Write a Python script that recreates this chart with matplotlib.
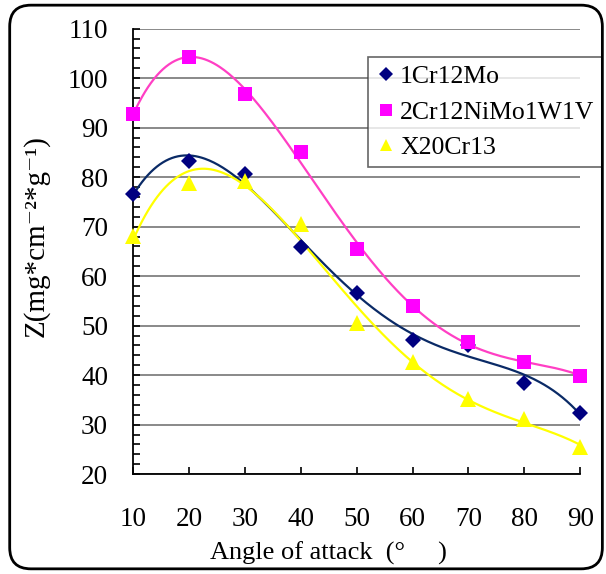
import numpy as np
import matplotlib.pyplot as plt
from matplotlib.patches import FancyBboxPatch
from matplotlib.ticker import MultipleLocator

# Angle of attack and measured Z values for the three steels
angle = [10, 20, 30, 40, 50, 60, 70, 80, 90]
z_1cr12mo = [76.6, 83.2, 80.7, 65.9, 56.6, 47.1, 46.1, 38.5, 32.4]
z_2cr12nimo = [92.7, 104.3, 96.8, 85.0, 65.5, 53.9, 46.6, 42.7, 39.9]
z_x20cr13 = [68.1, 78.8, 79.2, 70.6, 50.6, 42.7, 35.1, 31.2, 25.5]

plt.rcParams['font.family'] = ['Liberation Serif', 'DejaVu Serif']

fig = plt.figure(figsize=(6.06, 5.74), dpi=100)
ax = fig.add_axes([0.2195, 0.174, 0.738, 0.776])

# rounded frame around the whole chart
frame = FancyBboxPatch((0.016, 0.009), 0.978, 0.982, boxstyle='round,pad=0,rounding_size=0.035',
                       transform=fig.transFigure, fill=False, edgecolor='black', linewidth=2,
                       mutation_aspect=606 / 574)
fig.patches.append(frame)

xs = np.linspace(10, 90, 300)
series = [
    (z_1cr12mo, '1Cr12Mo', '#000080', 'D', 8.5, '#0a2a66'),
    (z_2cr12nimo, '2Cr12NiMo1W1V', '#ff00ff', 's', 10, '#ff3fc4'),
    (z_x20cr13, 'X20Cr13', '#ffff00', '^', 11, '#ffff00'),
]
for vals, name, col, mk, ms, lcol in series:
    # polynomial trendline, like the spreadsheet's
    p = np.polyfit(angle, vals, 4)
    ax.plot(xs, np.polyval(p, xs), color=lcol, linewidth=1.6, zorder=2)
for vals, name, col, mk, ms, lcol in series:
    ax.plot(angle, vals, linestyle='none', marker=mk, markersize=ms, color=col,
            markeredgewidth=0, label=name, zorder=3, clip_on=False)

ax.set_xlim(10, 90)
ax.set_ylim(20, 110)
ax.xaxis.set_major_locator(MultipleLocator(10))
ax.yaxis.set_major_locator(MultipleLocator(10))
ax.yaxis.set_minor_locator(MultipleLocator(2))
ax.yaxis.grid(True, which='major', color='#808080', linewidth=1.3)
ax.set_axisbelow(True)
for s in ['top', 'right']:
    ax.spines[s].set_visible(False)
for s in ['left', 'bottom']:
    ax.spines[s].set_linewidth(1.3)
ax.tick_params(axis='both', which='major', direction='in', length=5, width=1.2, labelsize=19.5)
ax.tick_params(axis='y', which='minor', direction='in', length=5, width=1.2)
ax.tick_params(axis='y', pad=18)
ax.tick_params(axis='x', pad=24)

ax.set_xlabel('Angle of attack  (°     )', fontsize=19)
ax.xaxis.set_label_coords(0.438, -0.152)
ax.set_ylabel('Z(mg*cm⁻²*g⁻¹)', fontsize=21)
ax.yaxis.set_label_coords(-0.186, 0.534)

leg = ax.legend(loc='upper left', bbox_to_anchor=(368 / 606, 1 - 57 / 574), bbox_transform=fig.transFigure,
                fontsize=18.5, frameon=True, fancybox=False, borderpad=0.3, labelspacing=0.5,
                handlelength=0.8, handletextpad=0.15, borderaxespad=0, markerscale=0.8)
leg.get_frame().set_edgecolor('#404040')
leg.get_frame().set_linewidth(1.2)

fig.savefig('out.png', dpi=100)
